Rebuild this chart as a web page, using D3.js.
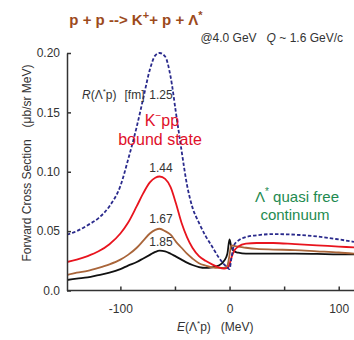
<!DOCTYPE html>
<html><head><meta charset="utf-8">
<script src="https://cdn.jsdelivr.net/npm/d3@7"></script>
<style>body{margin:0;background:#fff}svg{display:block;font-family:"Liberation Sans",Arial,sans-serif}</style>
</head><body><div id="c"></div>
<script>
// Energy grid E(Λ*p) in MeV
const energy = [-149,-140,-130,-120,-110,-100,-93,-85,-79,-73,-68,-64,-59,-54,-49,-44,-39,-34,-28,-22,-16,-10,-5,-2,0,1.5,4,8,15,25,40,60,80,100,114];
// Forward cross sections (μb/sr MeV) for R(Λ*p) = 1.25, 1.44, 1.67, 1.85 fm
const r125 = [0.047,0.050,0.055,0.061,0.071,0.088,0.110,0.138,0.162,0.186,0.198,0.200,0.197,0.180,0.149,0.118,0.089,0.070,0.057,0.046,0.037,0.028,0.022,0.0195,0.018,0.026,0.038,0.042,0.045,0.0465,0.0475,0.047,0.0455,0.043,0.041];
const r144 = [0.024,0.026,0.029,0.033,0.039,0.048,0.057,0.071,0.082,0.091,0.095,0.096,0.094,0.087,0.073,0.057,0.045,0.036,0.029,0.025,0.022,0.0195,0.0185,0.019,0.022,0.027,0.033,0.037,0.0395,0.040,0.040,0.039,0.038,0.037,0.0363];
const r167 = [0.013,0.015,0.0165,0.019,0.022,0.026,0.030,0.036,0.042,0.048,0.051,0.052,0.050,0.047,0.041,0.036,0.031,0.027,0.023,0.021,0.0195,0.019,0.019,0.021,0.030,0.038,0.0375,0.037,0.036,0.035,0.0345,0.034,0.033,0.032,0.031];
const r185 = [0.0088,0.010,0.011,0.013,0.015,0.018,0.021,0.024,0.027,0.030,0.0325,0.0335,0.033,0.031,0.0285,0.026,0.0235,0.0215,0.0197,0.019,0.0195,0.021,0.025,0.031,0.043,0.037,0.033,0.0318,0.031,0.031,0.031,0.031,0.0308,0.0305,0.0305];
const xTicks = [-100,-50,0,50,100];
const xTickLabels = ["-100","","0","","100"];
const yTicks = [0,0.05,0.10,0.15,0.20];
const yTickLabels = ["0.0","0.05","0.10","0.15","0.20"];
const radii = ["1.25","1.44","1.67","1.85"];

const W=354,H=340;
const svg=d3.select("#c").append("svg").attr("width",W).attr("height",H);
const x=d3.scaleLinear().domain([-150,114]).range([65.8,354]);
const y=d3.scaleLinear().domain([0,0.2]).range([290.5,53]);

const series=[
 {v:r125,color:"#2a2a8c",dash:"3.5,2"},
 {v:r144,color:"#e8141e",dash:null},
 {v:r167,color:"#a9653a",dash:null},
 {v:r185,color:"#111111",dash:null}
];
svg.append("clipPath").attr("id","pc").append("rect").attr("x",67).attr("y",40).attr("width",W-67).attr("height",251);
const line=d3.line().x((d,i)=>x(energy[i])).y(d=>y(d)).curve(d3.curveMonotoneX);
const g=svg.append("g").attr("clip-path","url(#pc)");
series.slice().reverse().forEach(s=>{
  g.append("path").attr("d",line(s.v)).attr("fill","none").attr("stroke",s.color)
   .attr("stroke-width",1.8).attr("stroke-dasharray",s.dash);
});

// axes
const xa=svg.append("g").attr("transform",`translate(0,${y(0)})`)
 .call(d3.axisBottom(x).tickValues(xTicks).tickSizeInner(-4).tickSizeOuter(0).tickPadding(14)
   .tickFormat((d,i)=>xTickLabels[i]));
const ya=svg.append("g").attr("transform",`translate(67,0)`)
 .call(d3.axisLeft(y).tickValues(yTicks).tickSizeInner(-4).tickSizeOuter(0).tickPadding(7)
   .tickFormat((d,i)=>yTickLabels[i]));
[xa,ya].forEach(a=>{
  a.selectAll("path,line").attr("stroke","#333").attr("stroke-width",1.5);
  a.selectAll("text").attr("fill","#333").attr("font-size",12).attr("font-family","Liberation Sans,Arial,sans-serif");
});
xa.select(".domain").attr("d",`M67,0H354`);

// axis titles
const xt=svg.append("text").attr("x",177).attr("y",331).attr("font-size",12).attr("fill","#333");
xt.append("tspan").attr("font-style","italic").text("E");
xt.append("tspan").text("(Λ");
xt.append("tspan").attr("dy",-5).attr("font-size",8).text("*");
xt.append("tspan").attr("dy",5).text("p)");
xt.append("tspan").attr("dx",10).text("(MeV)");

const yt=svg.append("text").attr("transform","translate(31,163) rotate(-90)").attr("text-anchor","middle")
 .attr("font-size",12).attr("fill","#333");
yt.append("tspan").text("Forward Cross Section");
yt.append("tspan").attr("dx",12).text("(μb/sr MeV)");

// title
const t=svg.append("text").attr("x",136).attr("y",25).attr("text-anchor","middle").attr("font-size",15)
 .attr("font-weight","bold").attr("fill","#9c4a1c");
t.append("tspan").text("p + p --> K");
t.append("tspan").attr("dy",-6).attr("font-size",11).text("+");
t.append("tspan").attr("dy",6).text("+ p + Λ");
t.append("tspan").attr("dy",-6).attr("font-size",11).text("*");

const st=svg.append("text").attr("x",343).attr("y",42).attr("text-anchor","end").attr("font-size",12).attr("fill","#333");
st.append("tspan").text("@4.0 GeV");
st.append("tspan").attr("dx",10).attr("font-style","italic").text("Q");
st.append("tspan").text(" ~ 1.6 GeV/c");

// annotations
const ra=svg.append("text").attr("x",82).attr("y",99).attr("font-size",12).attr("fill","#333");
ra.append("tspan").attr("font-style","italic").text("R");
ra.append("tspan").text("(Λ");
ra.append("tspan").attr("dy",-5).attr("font-size",8).text("*");
ra.append("tspan").attr("dy",5).text("p)");
ra.append("tspan").attr("dx",8).text("[fm]");
const labY=[99,172,223,246];
radii.forEach((r,i)=>{
  svg.append("text").attr("x",161).attr("y",labY[i]).attr("text-anchor","middle").attr("font-size",12).attr("fill","#333").text(r);
});
const kp=svg.append("text").attr("x",162).attr("y",126).attr("text-anchor","middle").attr("font-size",16).attr("fill","#e0102a");
kp.append("tspan").text("K");
kp.append("tspan").attr("dy",-7).attr("font-size",10).text("−");
kp.append("tspan").attr("dy",7).text("pp");
svg.append("text").attr("x",160).attr("y",145).attr("text-anchor","middle").attr("font-size",16).attr("fill","#e0102a").text("bound state");
const lq=svg.append("text").attr("x",297).attr("y",202).attr("text-anchor","middle").attr("font-size",15).attr("fill","#1e8a50");
lq.append("tspan").text("Λ");
lq.append("tspan").attr("dy",-7).attr("font-size",10).text("*");
lq.append("tspan").attr("dy",7).text(" quasi free");
svg.append("text").attr("x",295).attr("y",220).attr("text-anchor","middle").attr("font-size",15).attr("fill","#1e8a50").text("continuum");
</script></body></html>
